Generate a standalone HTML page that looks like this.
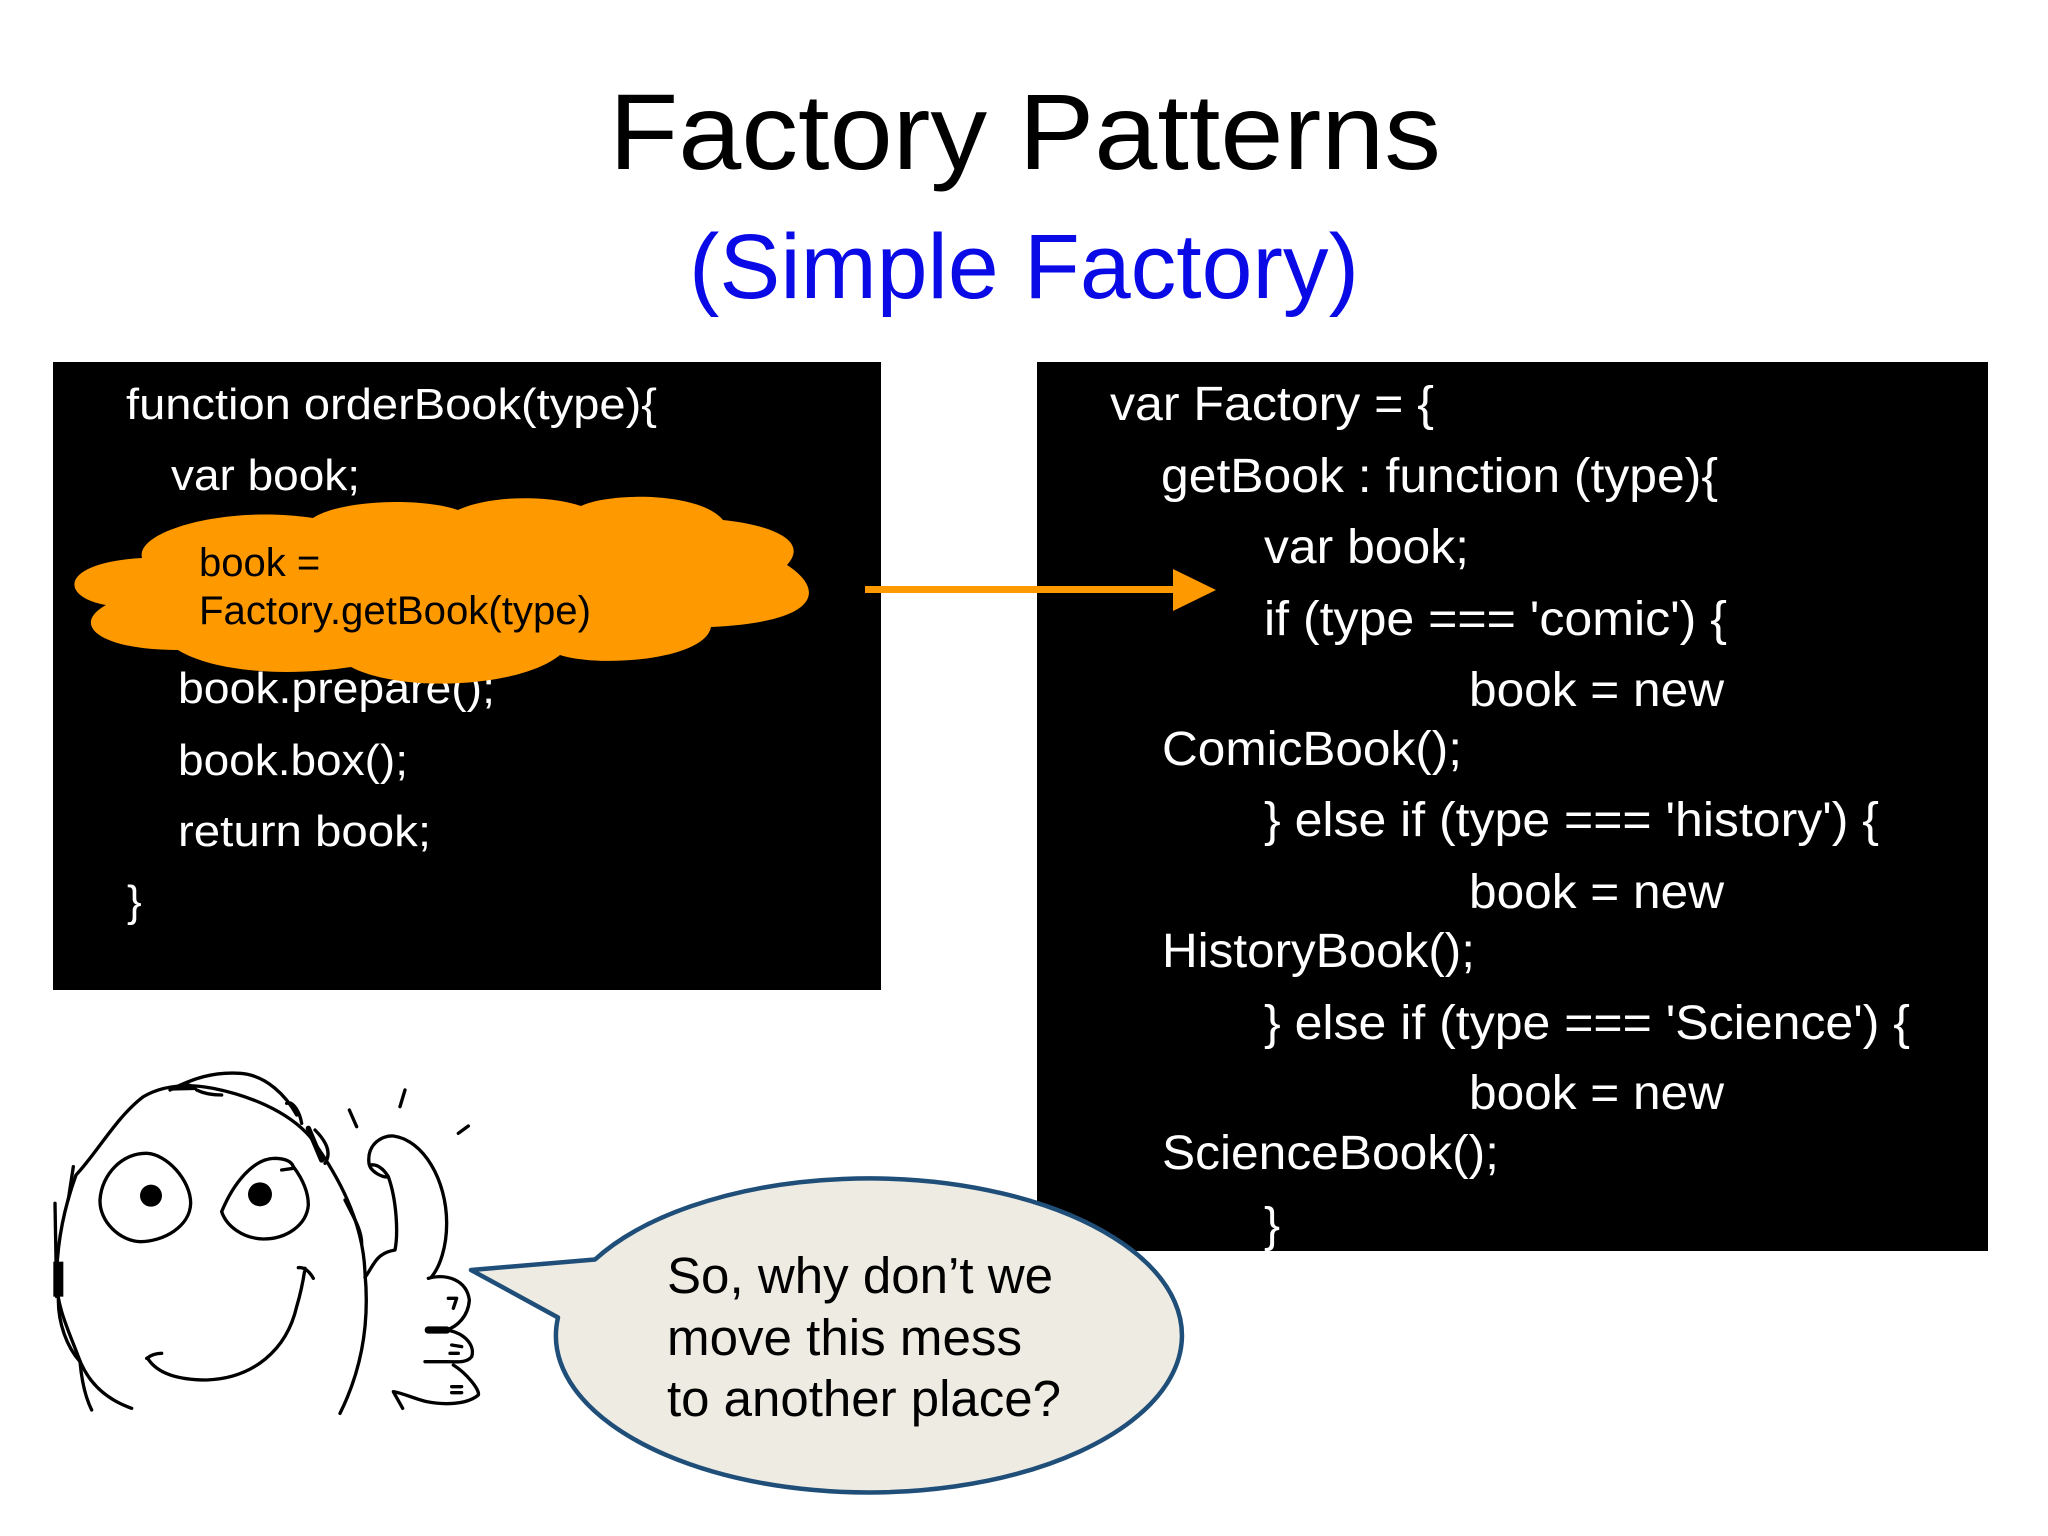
<!DOCTYPE html>
<html><head><meta charset="utf-8"><style>
html,body{margin:0;padding:0;background:#fff}
svg{display:block}
text{font-family:"Liberation Sans",sans-serif;white-space:pre}
.c text{fill:#fff;font-size:44px}
.r text{fill:#fff;font-size:48px}
.b text{fill:#000;font-size:51px}
.k{fill:none;stroke:#000;stroke-width:10;stroke-linecap:round;stroke-linejoin:round}
</style></head><body>
<svg xmlns="http://www.w3.org/2000/svg" width="2048" height="1536" viewBox="0 0 2048 1536">
<rect width="2048" height="1536" fill="#fff"/>
<text x="609" y="169" font-size="108" fill="#000" textLength="832" lengthAdjust="spacingAndGlyphs">Factory Patterns</text>
<text x="689" y="298" font-size="92" fill="#0a0ae6" textLength="670" lengthAdjust="spacingAndGlyphs">(Simple Factory)</text>

<rect x="53" y="362" width="828" height="628" fill="#000"/>
<rect x="1037" y="362" width="951" height="889" fill="#000"/>

<g class="c">
<text x="126" y="419" textLength="531" lengthAdjust="spacingAndGlyphs">function orderBook(type){</text>
<text x="171" y="490" textLength="189" lengthAdjust="spacingAndGlyphs">var book;</text>
<text x="178" y="703" textLength="317" lengthAdjust="spacingAndGlyphs">book.prepare();</text>
<text x="178" y="775" textLength="230" lengthAdjust="spacingAndGlyphs">book.box();</text>
<text x="178" y="846" textLength="253" lengthAdjust="spacingAndGlyphs">return book;</text>
<text x="127" y="916">}</text>
</g>

<g class="r">
<text x="1110" y="420" textLength="324" lengthAdjust="spacingAndGlyphs">var Factory = {</text>
<text x="1161" y="492" textLength="557" lengthAdjust="spacingAndGlyphs">getBook : function (type){</text>
<text x="1264" y="563" textLength="205" lengthAdjust="spacingAndGlyphs">var book;</text>
<text x="1264" y="635" textLength="463" lengthAdjust="spacingAndGlyphs">if (type === 'comic') {</text>
<text x="1469" y="706" textLength="255" lengthAdjust="spacingAndGlyphs">book = new</text>
<text x="1162" y="765" textLength="300" lengthAdjust="spacingAndGlyphs">ComicBook();</text>
<text x="1264" y="836" textLength="615" lengthAdjust="spacingAndGlyphs">} else if (type === 'history') {</text>
<text x="1469" y="908" textLength="255" lengthAdjust="spacingAndGlyphs">book = new</text>
<text x="1162" y="967" textLength="313" lengthAdjust="spacingAndGlyphs">HistoryBook();</text>
<text x="1264" y="1039" textLength="646" lengthAdjust="spacingAndGlyphs">} else if (type === 'Science') {</text>
<text x="1469" y="1109" textLength="255" lengthAdjust="spacingAndGlyphs">book = new</text>
<text x="1162" y="1169" textLength="337" lengthAdjust="spacingAndGlyphs">ScienceBook();</text>
<text x="1264" y="1241">}</text>
</g>

<path fill="#ff9900" d="M106 605 C60 597 58 563 142 558 C135 530 230 505 313 518 C340 500 420 497 458 510 C490 495 550 495 581 506 C610 492 700 492 723 520 C770 525 810 540 787 565 C826 590 820 622 711 627 C705 660 600 668 560 655 C520 688 400 693 351 667 C280 678 210 670 178 650 C100 650 70 625 106 605 Z"/>
<text x="199" y="576" font-size="40" fill="#000">book =</text>
<text x="199" y="624" font-size="40" fill="#000" textLength="392" lengthAdjust="spacingAndGlyphs">Factory.getBook(type)</text>

<rect x="865" y="586" width="310" height="7" fill="#ff9900"/>
<polygon points="1173,569 1216,590 1173,611" fill="#ff9900"/>

<g transform="translate(0 1040) scale(0.33333)">
<path class="k" d="M395 1105 C310 1075 260 1020 235 950 C205 870 170 800 170 720 C170 620 190 510 228 405 C290 340 350 230 430 170 C490 135 560 130 640 145 C740 165 860 210 930 290 C1010 400 1090 540 1095 700 C1110 860 1080 1000 1020 1120"/>
<path class="k" d="M510 150 C580 115 640 95 720 100 C800 105 860 170 890 225 M590 150 Q620 165 665 165 M165 490 L170 770 M175 780 C175 850 200 920 240 965 C245 1020 255 1070 275 1110 M220 380 L205 478 M860 190 C880 180 900 220 905 250 M945 270 C980 305 995 340 975 370 M1035 480 C1060 530 1085 570 1085 610"/>
<path d="M515 152 C545 125 570 120 595 150 Z" fill="#000"/>
<rect x="160" y="665" width="30" height="105" fill="#000"/>
<path d="M925 265 L965 360" fill="none" stroke="#000" stroke-width="16" stroke-linecap="round"/>
<path class="k" d="M300 480 C305 400 370 338 440 340 C500 342 572 420 572 490 C570 560 490 605 420 605 C360 603 298 545 300 480Z"/>
<circle cx="453" cy="467" r="33" fill="#000"/>
<path class="k" d="M665 515 C700 430 760 355 825 355 C860 356 875 365 880 380 C910 420 925 460 925 495 C920 555 860 597 790 597 C730 595 680 560 665 515Z M845 390 L880 385"/>
<circle cx="780" cy="463" r="36" fill="#000"/>
<path class="k" d="M440 955 Q460 940 485 940 M445 958 C480 1010 560 1020 620 1020 C760 1015 860 930 890 800 C905 750 910 720 915 685 M895 683 Q920 680 940 715"/>
<path class="k" d="M1095 712 C1120 680 1125 640 1185 630 C1195 580 1190 480 1165 410 C1150 415 1110 395 1107 370 C1100 310 1150 285 1180 288 C1270 300 1340 420 1340 550 C1340 620 1320 680 1295 710 M1110 375 Q1140 370 1165 410"/>
<path class="k" d="M1285 715 C1340 700 1400 720 1408 780 C1405 830 1370 860 1340 870 M1340 870 C1400 880 1425 920 1415 950 C1400 970 1370 965 1340 965 L1275 965 M1360 975 C1400 1000 1440 1050 1435 1065 C1400 1095 1330 1095 1280 1085 C1240 1075 1210 1060 1180 1055 L1208 1105 M1048 210 L1070 260 M1215 150 L1200 200 M1375 280 L1405 258 M1345 775 L1370 775 L1360 805 M1350 940 L1375 940 M1355 915 L1385 920 M1355 1040 L1385 1040 M1355 1058 L1385 1058"/>
<path d="M1285 870 L1340 870" stroke="#000" stroke-width="22" stroke-linecap="round"/>
</g>

<path d="M595 1259.5 L471 1270 L558 1317.5 A313 157 0 1 0 595 1259.5 Z" fill="#eeebe3" stroke="#1f4e79" stroke-width="4.5" stroke-linejoin="round"/>
<g class="b">
<text x="667" y="1293" textLength="386" lengthAdjust="spacingAndGlyphs">So, why don’t we</text>
<text x="667" y="1355" textLength="355" lengthAdjust="spacingAndGlyphs">move this mess</text>
<text x="667" y="1416" textLength="394" lengthAdjust="spacingAndGlyphs">to another place?</text>
</g>
</svg>
</body></html>
